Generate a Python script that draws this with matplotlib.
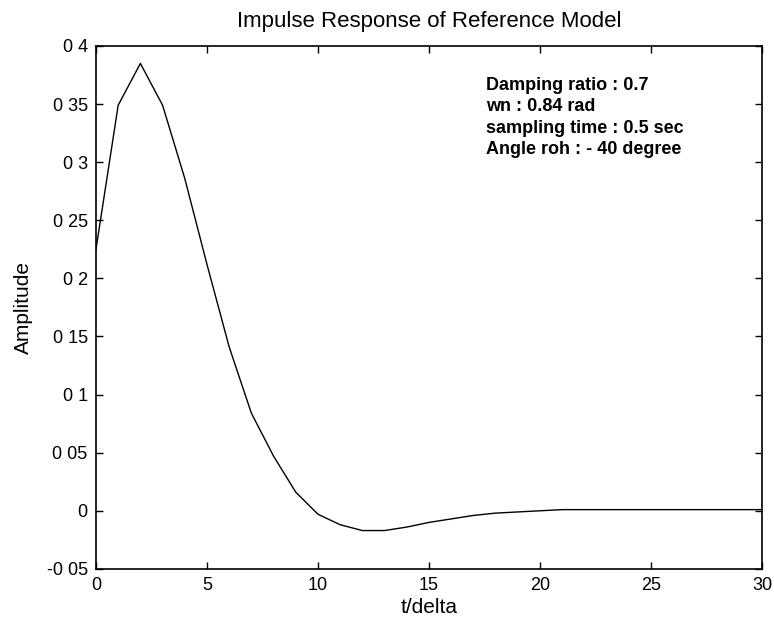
# Impulse response of the reference model (scanned MATLAB figure)
import numpy as np
import matplotlib
matplotlib.use("Agg")
import matplotlib.pyplot as plt

# ----------------------------
# DATA
# ----------------------------
t = np.arange(0, 31)
amplitude = [0.225, 0.349, 0.385, 0.349, 0.286, 0.212, 0.141, 0.084, 0.047, 0.016,
             -0.003, -0.012, -0.017, -0.017, -0.014, -0.010, -0.007, -0.004, -0.002, -0.001,
             0.000, 0.001, 0.001, 0.001, 0.001, 0.001, 0.001, 0.001, 0.001, 0.001, 0.001]

x_ticks = [0, 5, 10, 15, 20, 25, 30]
y_ticks = [-0.05, 0, 0.05, 0.1, 0.15, 0.2, 0.25, 0.3, 0.35, 0.4]
# decimal points are lost in the scan, keep the labels as printed
y_tick_labels = ["-0 05", "0", "0 05", "0 1", "0 15", "0 2", "0 25", "0 3", "0 35", "0 4"]

info_lines = ["Damping ratio : 0.7",
              "wn : 0.84 rad",
              "sampling time : 0.5 sec",
              "Angle roh : - 40 degree"]

# ----------------------------
# PLOT
# ----------------------------
plt.rcParams['font.family'] = ['Liberation Sans', 'DejaVu Sans']

fig = plt.figure(figsize=(7.74, 6.3), dpi=100)
ax = fig.add_axes([0.124, 0.097, 0.8605, 0.830])

ax.plot(t, amplitude, color='black', linewidth=1.0)

ax.set_xlim(0, 30)
ax.set_ylim(-0.05, 0.4)
ax.set_xticks(x_ticks)
ax.set_xticklabels([str(v) for v in x_ticks])
ax.set_yticks(y_ticks)
ax.set_yticklabels(y_tick_labels)

ax.tick_params(direction='in', length=5, width=1, top=True, right=True,
               labelsize=13, pad=6)
for sp in ax.spines.values():
    sp.set_linewidth(1.2)

ax.set_xlabel("t/delta", fontsize=15, labelpad=3)
ax.set_ylabel("Amplitude", fontsize=15, labelpad=10)
ax.set_title("Impulse Response of Reference Model", fontsize=16, pad=14)

ax.text(0.585, 0.941, "\n".join(info_lines), transform=ax.transAxes,
        fontsize=13, fontweight='bold', va='top', ha='left', linespacing=1.35)

fig.savefig("out.png", dpi=100)
